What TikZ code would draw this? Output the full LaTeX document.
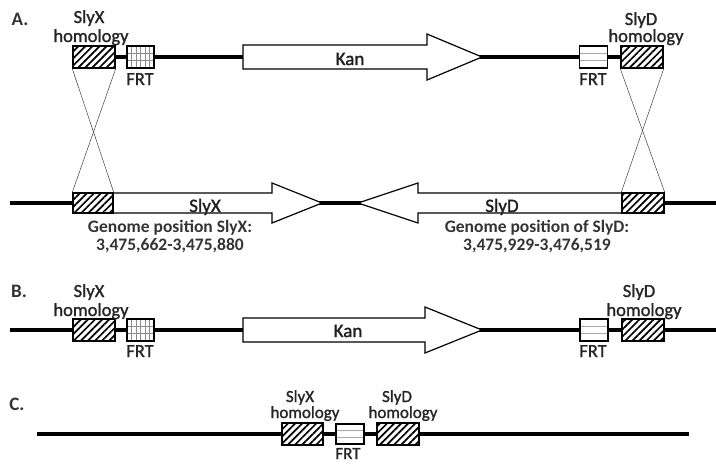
\documentclass[tikz,border=0pt]{standalone}
\usepackage{fontspec}
\setmainfont{Carlito}
\newfontfamily\medfont[FakeBold=1.3]{Carlito}
\usetikzlibrary{patterns.meta,calc}
\begin{document}
\begin{tikzpicture}[x=1pt,y=-1pt,
  dna/.style={line width=3.8pt,black},
  box/.style={draw=black,line width=1.4pt,fill=white,inner sep=0pt,minimum height=22pt},
  hatch/.style={box,minimum width=42pt,postaction={pattern={Lines[angle=45,distance=5pt,line width=1.7pt]}}},
  frtgrid/.style={box,minimum width=27pt,path picture={
    \foreach \i in {1,...,5}{\draw[black!45,line width=0.5pt] ($(path picture bounding box.north west)!\i/6!(path picture bounding box.north east)$) -- ($(path picture bounding box.south west)!\i/6!(path picture bounding box.south east)$);}
    \foreach \i in {1,2}{\draw[black!45,line width=0.5pt] ($(path picture bounding box.north west)!\i/3!(path picture bounding box.south west)$) -- ($(path picture bounding box.north east)!\i/3!(path picture bounding box.south east)$);}
  }},
  frtlines/.style={box,minimum width=28pt,path picture={
    \foreach \i in {1,2}{\draw[black!35,line width=0.5pt] ($(path picture bounding box.north west)!\i/3!(path picture bounding box.south west)$) -- ($(path picture bounding box.north east)!\i/3!(path picture bounding box.south east)$);}
  }},
  gene/.style={draw=black,line width=1.2pt,fill=white,line join=miter},
  cross/.style={black!75,line width=0.5pt},
  lbl/.style={font=\medfont\fontsize{18.5}{18.5}\selectfont,text=black!85,inner sep=0pt,anchor=base},
  lblc/.style={font=\medfont\fontsize{17}{17}\selectfont,text=black!85,inner sep=0pt,anchor=base},
  panel/.style={font=\bfseries\fontsize{19}{19}\selectfont,text=black!80,inner sep=0pt,anchor=base},
  big/.style={font=\medfont\fontsize{19}{19}\selectfont,text=black!88,inner sep=0pt,anchor=base},
  gen/.style={font=\bfseries\fontsize{17.5}{17.5}\selectfont,text=black!80,inner sep=0pt,anchor=base}
]
\useasboundingbox (0,0) rectangle (716,464);

% ---------------- Panel A, top construct ----------------
\node[panel] (pA) at (20,25) {A.};
\node[hatch] (hA1) at (94,57) {};
\node[frtgrid] (fA1) at (140.5,57) {};
\node[frtlines] (fA2) at (593.5,57) {};
\node[hatch] (hA2) at (642,57) {};
\draw[dna] (hA1.east) -- (fA1.west);
\draw[dna] (fA1.east) -- (fA2.west);
\draw[dna] (fA2.east) -- (hA2.west);
\node[hatch] at (hA1) {};
\node[frtgrid] at (fA1) {};
\node[frtlines] at (fA2) {};
\node[hatch] at (hA2) {};
\coordinate (kanAtail) at (243,57);
\coordinate (kanAtip) at (482,57);
\draw[gene] (243,45) -- (427,45) -- (427,34) -- (kanAtip) -- (427,80) -- (427,69) -- (243,69) -- cycle;
\node[big] (kanA) at (350,65) {Kan};
\node[lbl] (sxA) at (89,23) {SlyX};
\node[lbl] (hxA) at (91,42) {homology};
\node[lbl] (frA1) at (140,85) {FRT};
\node[lbl] (sdA) at (641,25) {SlyD};
\node[lbl] (hdA) at (646,42) {homology};
\node[lbl] (frA2) at (593,85) {FRT};

% ---------------- Panel A, genome ----------------
\coordinate (gL) at (10,203);
\coordinate (gR) at (716,203);
\draw[dna] (gL) -- (gR);
\coordinate (slyXtip) at (322,203);
\coordinate (slyDtip) at (358,203);
\draw[gene] (73,193) -- (272,193) -- (272,183) -- (slyXtip) -- (272,223) -- (272,213) -- (73,213) -- cycle;
\draw[gene] (664,193) -- (418,193) -- (418,183) -- (slyDtip) -- (418,223) -- (418,213) -- (664,213) -- cycle;
\node[hatch,minimum width=40pt,minimum height=20pt] (hA3) at (93,203) {};
\node[hatch,minimum width=42pt,minimum height=20pt] (hA4) at (643,203) {};
\node[big] (slyX) at (205,212) {SlyX};
\node[big] (slyD) at (502,212) {SlyD};
\node[gen] (gpX) at (170,232) {Genome position SlyX:};
\node[gen] (nX) at (170,250) {3,475,662-3,475,880};
\node[gen] (gpD) at (537,232) {Genome position of SlyD:};
\node[gen] (nD) at (537,250) {3,475,929-3,476,519};

% crossover lines
\draw[cross] (hA1.south west) -- (hA3.north east);
\draw[cross] (hA1.south east) -- (hA3.north west);
\draw[cross] (hA2.south west) -- (hA4.north east);
\draw[cross] (hA2.south east) -- (hA4.north west);

% ---------------- Panel B ----------------
\node[panel] (pB) at (19,297) {B.};
\coordinate (bL) at (10,330);
\coordinate (bR) at (716,330);
\draw[dna] (bL) -- (bR);
\coordinate (kanBtip) at (482,330);
\draw[gene] (243,318) -- (425,318) -- (425,307) -- (kanBtip) -- (425,353) -- (425,342) -- (243,342) -- cycle;
\node[hatch] (hB1) at (94,330) {};
\node[frtgrid] (fB1) at (140.5,330) {};
\node[frtlines] (fB2) at (594,330) {};
\node[hatch] (hB2) at (643,330) {};
\node[big] (kanB) at (348,337) {Kan};
\node[lbl] (sxB) at (89,297) {SlyX};
\node[lbl] (hxB) at (91,316) {homology};
\node[lbl] (frB1) at (140,357) {FRT};
\node[lbl] (sdB) at (639,297) {SlyD};
\node[lbl] (hdB) at (644,316) {homology};
\node[lbl] (frB2) at (593,357) {FRT};

% ---------------- Panel C ----------------
\node[panel] (pC) at (17,410) {C.};
\coordinate (cL) at (37,434);
\coordinate (cR) at (689,434);
\draw[dna] (cL) -- (cR);
\node[hatch,minimum width=41pt] (hC1) at (302.5,434) {};
\node[frtlines,minimum height=20pt] (fC) at (350,434) {};
\node[hatch] (hC2) at (398,434) {};
\node[lblc] (sxC) at (300,402) {SlyX};
\node[lblc] (hxC) at (305,418) {homology};
\node[lblc] (sdC) at (397,402) {SlyD};
\node[lblc] (hdC) at (403,418) {homology};
\node[lblc] (frC) at (348,459) {FRT};
\end{tikzpicture}
\end{document}
